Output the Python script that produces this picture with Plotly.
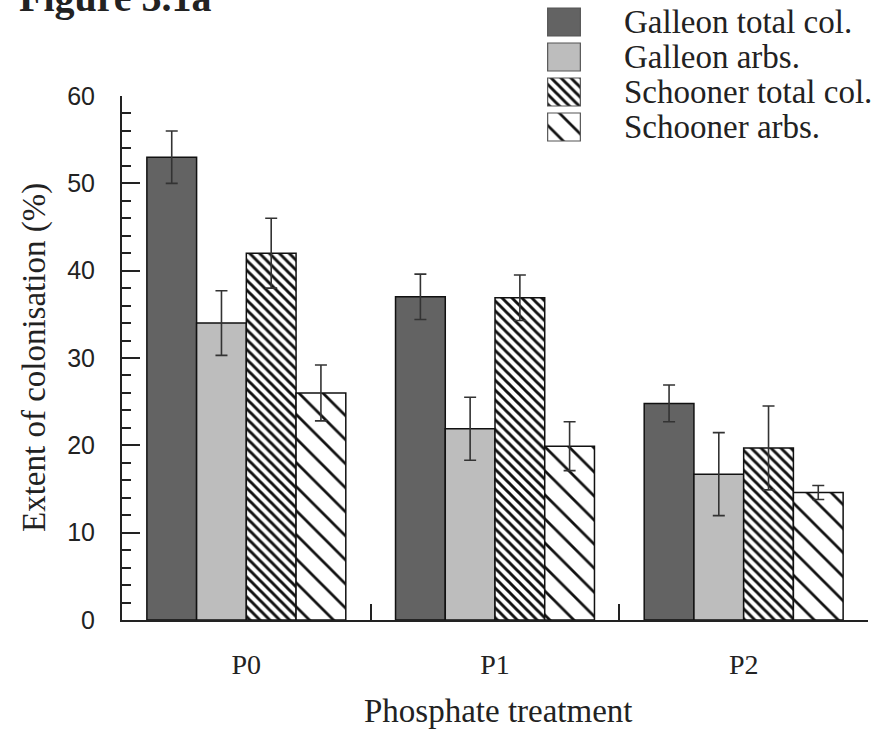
import plotly.graph_objects as go

# ---- data ----
categories = ["P0", "P1", "P2"]
series_names = ["Galleon total col.", "Galleon arbs.", "Schooner total col.", "Schooner arbs."]
galleon_total = [53.0, 37.0, 24.8]
galleon_total_err = [3.0, 2.6, 2.1]
galleon_arbs = [34.0, 21.9, 16.7]
galleon_arbs_err = [3.7, 3.6, 4.75]
schooner_total = [42.0, 36.9, 19.7]
schooner_total_err = [4.0, 2.6, 4.8]
schooner_arbs = [26.0, 19.9, 14.6]
schooner_arbs_err = [3.2, 2.8, 0.8]
y_ticks = [0, 10, 20, 30, 40, 50, 60]

values = [galleon_total, galleon_arbs, schooner_total, schooner_arbs]
errors = [galleon_total_err, galleon_arbs_err, schooner_total_err, schooner_arbs_err]

# ---- styles ----
W, H = 882, 730
ML, MR, MB = 122, 14, 110
PAPER_H = H - MB          # margin top = 0
PLOT_TOP = 96
ydom_top = (PAPER_H - PLOT_TOP) / PAPER_H
INK = "#222222"
SERIF = "Liberation Serif"
SANS = "Liberation Sans"

styles = [
    dict(color="#636363", pattern=None),
    dict(color="#bdbdbd", pattern=None),
    dict(color="white", pattern=dict(shape="\\", size=7, solidity=0.42, fgcolor="#111111",
                                     bgcolor="white", fillmode="replace")),
    dict(color="white", pattern=dict(shape="\\", size=17, solidity=0.16, fgcolor="#111111",
                                     bgcolor="white", fillmode="replace")),
]

fig = go.Figure()
for name, vals, errs, st in zip(series_names, values, errors, styles):
    marker = dict(color=st["color"], line=dict(color="#111111", width=1.5))
    if st["pattern"]:
        marker["pattern"] = st["pattern"]
    fig.add_trace(go.Bar(
        x=categories, y=vals, name=name, marker=marker,
        error_y=dict(type="data", array=errs, visible=True, color="#333333",
                     thickness=1.6, width=6),
        showlegend=False, xaxis="x", yaxis="y",
    ))

# custom legend swatches (separate small axes)
sw_x0, sw_x1 = 547, 581
row_top, row_h = 4.5, 35
for i, (name, st) in enumerate(zip(series_names, styles)):
    marker = dict(color=st["color"], line=dict(color="#555555", width=1.2))
    if st["pattern"]:
        marker["pattern"] = st["pattern"]
    fig.add_trace(go.Bar(
        x=[1], y=[i], orientation="h", width=0.8, marker=marker,
        showlegend=False, xaxis="x2", yaxis="y2", hoverinfo="skip",
    ))
    fig.add_annotation(
        text=name, xref="paper", yref="y2", x=(622 - ML) / (W - ML - MR), y=i,
        xanchor="left", yanchor="middle", showarrow=False,
        font=dict(family=SERIF, size=33, color=INK),
    )

# small ticks at bar centres (overlay linear axis)
n_series = len(series_names)
group_w = 0.8
bar_w = group_w / n_series
centre_ticks = [c + (-group_w / 2 + bar_w * (k + 0.5)) for c in range(len(categories)) for k in range(n_series)]

fig.update_layout(
    width=W, height=H,
    margin=dict(l=ML, r=MR, t=0, b=MB, autoexpand=False),
    paper_bgcolor="white", plot_bgcolor="white",
    barmode="group", bargap=0.2, bargroupgap=0,
    showlegend=False,
    xaxis=dict(
        type="category", domain=[0, 1], anchor="y", range=[-0.5, 2.5], automargin=False,
        tickson="boundaries", ticks="inside", ticklen=16, tickwidth=2, tickcolor=INK,
        showline=True, linewidth=2, linecolor=INK, showgrid=False, zeroline=False,
        tickfont=dict(family=SERIF, size=28, color=INK), ticklabelstandoff=18,
    ),
    xaxis3=dict(
        overlaying="x", anchor="y", type="linear", range=[-0.5, 2.5], automargin=False,
        tickmode="array", tickvals=centre_ticks, ticks="inside", ticklen=7, tickwidth=1.5,
        tickcolor="#333333", showticklabels=False, showline=False, showgrid=False, zeroline=False,
    ),
    yaxis=dict(
        domain=[0, ydom_top], anchor="x", range=[0, 60], automargin=False,
        tickmode="array", tickvals=y_ticks, ticks="inside", ticklen=18, tickwidth=2, tickcolor=INK,
        minor=dict(dtick=2, ticks="inside", ticklen=9, tickwidth=1.5, tickcolor=INK),
        showline=True, linewidth=2, linecolor=INK, showgrid=False, zeroline=False,
        tickfont=dict(family=SANS, size=25, color=INK), ticklabelstandoff=20,
    ),
    xaxis2=dict(
        domain=[(sw_x0 - ML) / (W - ML - MR), (sw_x1 - ML) / (W - ML - MR)], anchor="y2",
        range=[-0.02, 1.02], visible=False, fixedrange=True, automargin=False,
    ),
    yaxis2=dict(
        domain=[(PAPER_H - (row_top + 4 * row_h)) / PAPER_H, (PAPER_H - row_top) / PAPER_H],
        anchor="x2", range=[3.5, -0.5], visible=False, fixedrange=True, automargin=False,
    ),
)

# title and axis titles
fig.add_annotation(
    text="<b>Figure 3.1a</b>", xref="paper", yref="paper",
    x=(17 - ML) / (W - ML - MR), y=1, xanchor="left", yanchor="middle", yshift=3,
    showarrow=False, font=dict(family=SERIF, size=40, color=INK),
)
fig.add_annotation(
    text="Extent of colonisation (%)", xref="paper", yref="paper",
    x=(34 - ML) / (W - ML - MR), y=ydom_top / 2, xanchor="center", yanchor="middle",
    textangle=-90, showarrow=False, font=dict(family=SERIF, size=33, color=INK),
)
fig.add_annotation(
    text="Phosphate treatment", xref="paper", yref="paper",
    x=(498 - ML) / (W - ML - MR), y=(PAPER_H - 711) / PAPER_H, xanchor="center", yanchor="middle",
    showarrow=False, font=dict(family=SERIF, size=33, color=INK),
)

fig.write_html("out.html")
